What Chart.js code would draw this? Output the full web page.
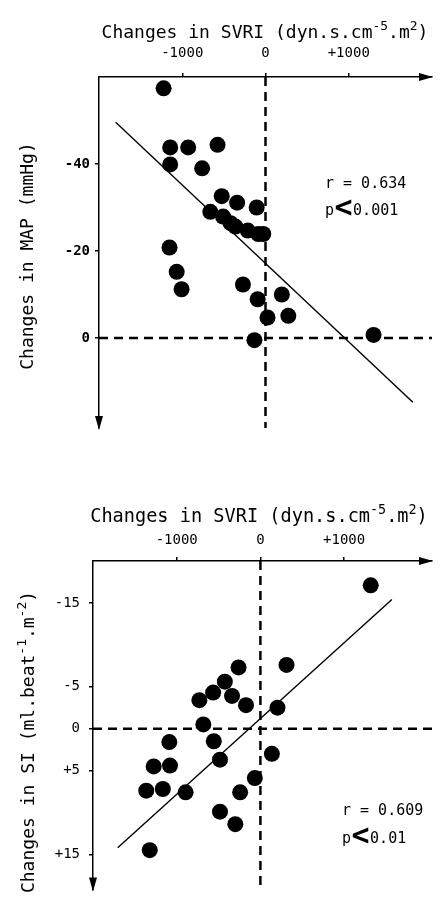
<!DOCTYPE html>
<html>
<head>
<meta charset="utf-8">
<script src="https://cdn.jsdelivr.net/npm/chart.js@4.4.1/dist/chart.umd.min.js"></script>
<style>
body { margin: 0; background: #fff; }
#wrap { position: relative; width: 440px; height: 907px; }
canvas { position: absolute; left: 0; }
</style>
</head>
<body>
<div id="wrap">
  <canvas id="mapChart" width="440" height="450" style="top:0px"></canvas>
  <canvas id="siChart" width="440" height="457" style="top:450px"></canvas>
</div>
<script>
// Top panel: changes in SVRI vs changes in MAP
const svriMap = [-1224, -1145, -1145, -929, -576, -761, -526, -341, -106, -663, -510, -420, -361,
                 -212, -86, -27, -1153, -1067, -1008, -271, -94, 196, 24, 274, -133, 1298];
const mapChange = [-57.4, -43.8, -39.9, -43.8, -44.4, -39.0, -32.6, -31.1, -30.0, -29.0, -27.9, -26.4, -25.6,
                   -24.7, -23.9, -23.9, -20.8, -15.2, -11.2, -12.3, -8.9, -10.0, -4.7, -5.1, 0.5, -0.7];
const mapFitX = [-1800, 1770];
const mapFitY = [-49.6, 14.8];
const mapTicks = [-40, -20, 0];

// Bottom panel: changes in SVRI vs changes in SI
const svriSi = [1318, -261, 312, -425, -565, -339, -729, -172, 204, -682, -1088, -557,
                137, -1275, -1080, -483, -67, -1364, -1166, -893, -242, -483, -300, -1322];
const siChange = [-17.1, -7.3, -7.6, -5.6, -4.3, -3.9, -3.4, -2.8, -2.5, -0.5, 1.6, 1.5,
                  3.0, 4.5, 4.4, 3.7, 5.9, 7.4, 7.2, 7.6, 7.6, 9.9, 11.4, 14.5];
const siFitX = [-1705, 1571];
const siFitY = [14.2, -15.4];
const siTicks = [-15, -5, 0, 5, 15];

const svriTicks = [-1000, 0, 1000];

const FONT = "'DejaVu Sans Mono', monospace";

// signed tick labels like the original (+1000, -40 ...)
function signed(v) {
    return v > 0 ? '+' + v : String(v);
}

// draws text made of pieces, some of them superscripts
function drawRich(ctx, parts, x, y, size, align) {
    const fontOf = p => (p.bold ? 'bold ' : '') + (p.size || (p.sup ? size * 0.72 : size)) + 'px ' + FONT;
    let width = 0;
    parts.forEach(p => {
        ctx.font = fontOf(p);
        width += ctx.measureText(p.t).width + (p.gap || 0);
    });
    let cx = align === 'left' ? x : x - width / 2;
    ctx.textAlign = 'left';
    ctx.textBaseline = 'alphabetic';
    parts.forEach(p => {
        ctx.font = fontOf(p);
        ctx.fillText(p.t, cx + (p.gap || 0) / 2, y - (p.sup ? size * 0.45 : 0) + (p.dy || 0));
        cx += ctx.measureText(p.t).width + (p.gap || 0);
    });
}

// arrow heads, axis titles and r / p annotation
const decorPlugin = {
    id: 'decor',
    afterDraw(chart, args, opts) {
        const ctx = chart.ctx;
        const a = chart.chartArea;
        ctx.save();
        ctx.fillStyle = '#000';

        // arrow at the right end of the x axis
        ctx.beginPath();
        ctx.moveTo(a.right + 1, a.top);
        ctx.lineTo(a.right - 13, a.top - 4);
        ctx.lineTo(a.right - 13, a.top + 4);
        ctx.closePath();
        ctx.fill();

        // arrow at the bottom of the y axis
        ctx.beginPath();
        ctx.moveTo(a.left, a.bottom + 2);
        ctx.lineTo(a.left - 4, a.bottom - 12);
        ctx.lineTo(a.left + 4, a.bottom - 12);
        ctx.closePath();
        ctx.fill();

        drawRich(ctx, opts.xTitle, opts.xTitleAt[0], opts.xTitleAt[1], opts.titleSize);

        ctx.save();
        ctx.translate(opts.yTitleAt[0], opts.yTitleAt[1]);
        ctx.rotate(-Math.PI / 2);
        drawRich(ctx, opts.yTitle, 0, 0, 18);
        ctx.restore();

        drawRich(ctx, opts.rText, opts.rAt[0], opts.rAt[1], 15, 'left');
        drawRich(ctx, opts.pText, opts.pAt[0], opts.pAt[1], 15, 'left');
        ctx.restore();
    }
};

function buildChart(id, s) {
    const points = s.xs.map((x, i) => ({ x: x, y: s.ys[i] }));
    const fit = s.fitX.map((x, i) => ({ x: x, y: s.fitY[i] }));
    const dashed = { showLine: true, borderColor: '#000', borderWidth: 2.5, borderDash: [9, 6], pointRadius: 0, order: 3 };

    return new Chart(document.getElementById(id), {
        type: 'scatter',
        data: {
            datasets: [
                { data: points, backgroundColor: '#000', borderWidth: 0, pointRadius: 8, pointHoverRadius: 8, order: 1 },
                { data: fit, showLine: true, borderColor: '#000', borderWidth: 1.4, pointRadius: 0, order: 2 },
                Object.assign({ data: [{ x: 0, y: s.yMin }, { x: 0, y: s.yMax }] }, dashed),
                Object.assign({ data: [{ x: s.xMin, y: 0 }, { x: s.xMax, y: 0 }] }, dashed)
            ]
        },
        options: {
            responsive: false,
            animation: false,
            events: [],
            layout: { padding: { left: 0, top: 0, right: 1, bottom: s.padBottom } },
            plugins: {
                legend: { display: false },
                tooltip: { enabled: false },
                decor: s.decor
            },
            scales: {
                x: {
                    type: 'linear',
                    position: 'top',
                    min: s.xMin,
                    max: s.xMax,
                    afterBuildTicks: axis => { axis.ticks = svriTicks.map(v => ({ value: v })); },
                    afterFit: axis => { axis.height = s.xAxisHeight; },
                    grid: { drawOnChartArea: false, tickLength: 4, color: '#000', lineWidth: 1.5 },
                    border: { display: true, color: '#000', width: 1.5 },
                    ticks: { color: '#000', padding: s.xTickPad, maxRotation: 0, font: { family: FONT, size: 14 }, callback: signed }
                },
                y: {
                    type: 'linear',
                    position: 'left',
                    reverse: true,
                    min: s.yMin,
                    max: s.yMax,
                    afterBuildTicks: axis => { axis.ticks = s.yTicks.map(v => ({ value: v })); },
                    afterFit: axis => { axis.width = s.yAxisWidth; },
                    grid: { drawOnChartArea: false, tickLength: 4, color: '#000', lineWidth: 1.5 },
                    border: { display: true, color: '#000', width: 1.5 },
                    ticks: { color: '#000', padding: s.yTickPad, font: { family: FONT, size: 14, weight: s.yTickWeight }, callback: signed }
                }
            }
        },
        plugins: [decorPlugin]
    });
}

const svriTitle = [{ t: 'Changes in SVRI (dyn.s.cm' }, { t: '-5', sup: true }, { t: '.m' }, { t: '2', sup: true }, { t: ')' }];
const lessThan = { t: '<', size: 30, bold: true, gap: 1, dy: 2 };

buildChart('mapChart', {
    xs: svriMap, ys: mapChange, fitX: mapFitX, fitY: mapFitY, yTicks: mapTicks,
    xMin: -2000, xMax: 2000, yMin: -60, yMax: 20.7,
    xAxisHeight: 77, yAxisWidth: 99, padBottom: 22, xTickPad: 11, yTickPad: 5, yTickWeight: 'bold',
    decor: {
        xTitle: svriTitle, xTitleAt: [265, 38], titleSize: 18,
        yTitle: [{ t: 'Changes in MAP (mmHg)' }], yTitleAt: [33, 256],
        rText: [{ t: 'r = 0.634' }], rAt: [325, 188],
        pText: [{ t: 'p' }, lessThan, { t: '0.001' }], pAt: [325, 215]
    }
});

buildChart('siChart', {
    xs: svriSi, ys: siChange, fitX: siFitX, fitY: siFitY, yTicks: siTicks,
    xMin: -2000, xMax: 2050, yMin: -20, yMax: 19.2,
    xAxisHeight: 111, yAxisWidth: 93, padBottom: 5, xTickPad: 8, yTickPad: 9, yTickWeight: 'normal',
    decor: {
        xTitle: svriTitle, xTitleAt: [259, 72], titleSize: 18.6,
        yTitle: [{ t: 'Changes in SI (ml.beat' }, { t: '-1', sup: true }, { t: '.m' }, { t: '-2', sup: true }, { t: ')' }],
        yTitleAt: [34, 292],
        rText: [{ t: 'r = 0.609' }], rAt: [342, 365],
        pText: [{ t: 'p' }, lessThan, { t: '0.01' }], pAt: [342, 393]
    }
});
</script>
</body>
</html>
